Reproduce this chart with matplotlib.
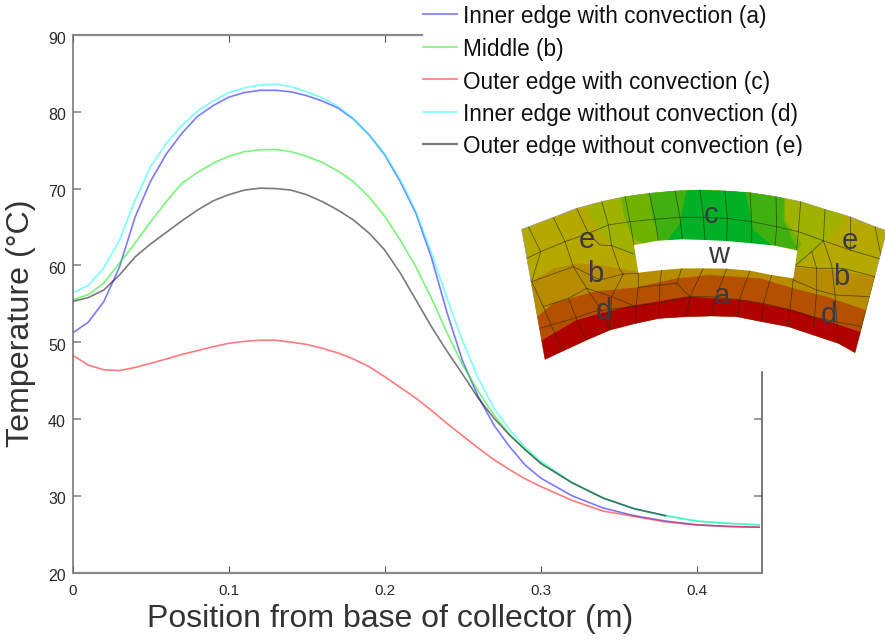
import numpy as np
import matplotlib
matplotlib.use("Agg")
import matplotlib.pyplot as plt
from matplotlib.patches import Polygon
from matplotlib.transforms import ScaledTranslation

plt.rcParams['font.family'] = ['Liberation Sans', 'DejaVu Sans']

position = [0.00, 0.01, 0.02, 0.03, 0.04, 0.05, 0.06, 0.07, 0.08, 0.09, 0.10, 0.11, 0.12,
            0.13, 0.14, 0.15, 0.16, 0.17, 0.18, 0.19, 0.20, 0.21, 0.22, 0.23, 0.24, 0.25,
            0.26, 0.27, 0.28, 0.29, 0.30, 0.32, 0.34, 0.36, 0.38, 0.40, 0.42, 0.44]
inner_conv = [51.2, 52.6, 55.3, 59.8, 66.3, 71.0, 74.5, 77.2, 79.4, 80.8, 81.9, 82.5, 82.8,
              82.8, 82.6, 82.1, 81.4, 80.5, 79.05, 77.0, 74.4, 70.9, 66.8, 61.0, 53.8, 47.5,
              42.9, 39.2, 36.4, 34.0, 32.3, 30.0, 28.4, 27.4, 26.7, 26.2, 26.0, 25.9]
middle = [55.5, 56.2, 57.7, 60.3, 62.9, 65.7, 68.3, 70.7, 72.1, 73.3, 74.2, 74.8, 75.05,
          75.1, 74.8, 74.2, 73.4, 72.3, 70.9, 68.9, 66.4, 63.3, 59.8, 55.7, 51.2, 47.0,
          43.6, 40.5, 38.0, 36.0, 34.3, 31.7, 29.7, 28.3, 27.4, 26.7, 26.4, 26.2]
outer_conv = [48.3, 47.0, 46.4, 46.3, 46.7, 47.25, 47.8, 48.4, 48.9, 49.4, 49.85, 50.1, 50.25,
              50.25, 50.0, 49.7, 49.2, 48.6, 47.8, 46.8, 45.5, 44.1, 42.7, 41.1, 39.4, 37.8,
              36.2, 34.7, 33.4, 32.2, 31.2, 29.4, 28.0, 27.3, 26.6, 26.2, 26.0, 25.9]
inner_noconv = [56.4, 57.4, 59.7, 63.3, 68.5, 72.9, 75.9, 78.2, 80.1, 81.4, 82.5, 83.1, 83.5,
                83.6, 83.3, 82.6, 81.8, 80.7, 79.1, 77.0, 74.5, 71.1, 67.0, 61.6, 55.7, 50.1,
                45.3, 41.4, 38.6, 36.3, 34.5, 31.7, 29.7, 28.3, 27.4, 26.7, 26.4, 26.2]
outer_noconv = [55.3, 55.8, 56.8, 58.75, 61.1, 62.8, 64.3, 65.8, 67.2, 68.4, 69.2, 69.8, 70.05,
                70.0, 69.8, 69.2, 68.3, 67.2, 65.9, 64.2, 62.0, 59.0, 55.5, 52.0, 48.8, 45.8,
                42.7, 40.1, 37.9, 36.0, 34.2, 31.7, 29.7, 28.3, 27.4, np.nan, np.nan, np.nan]
series_labels = ['Inner edge with convection (a)', 'Middle (b)', 'Outer edge with convection (c)',
                 'Inner edge without convection (d)', 'Outer edge without convection (e)']
series_colors = ['#2222ff', '#22ee22', '#ff2222', '#22ffff', '#222222']
x_ticks = [0, 0.1, 0.2, 0.3, 0.4]
x_tick_labels = ['0', '0.1', '0.2', '0.3', '0.4']
y_ticks = [20, 30, 40, 50, 60, 70, 80, 90]

W, H = 885, 642
fig = plt.figure(figsize=(W / 100, H / 100), dpi=100, facecolor='white')
L, R, T, B = 72.7, 761.7, 35.0, 572.5
ax = fig.add_axes([L / W, 1 - B / H, (R - L) / W, (B - T) / H])

for vals, col in zip([inner_conv, middle, outer_conv, inner_noconv, outer_noconv], series_colors):
    ax.plot(position, vals, color=col, lw=1.2, alpha=0.6, solid_joinstyle='round')

ax.set_xlim(0, (R - L) / 1560)
ax.set_ylim(20, 90)
ax.set_xticks(x_ticks)
ax.set_xticklabels(x_tick_labels)
ax.set_yticks(y_ticks)
ax.tick_params(axis='both', direction='in', labelcolor='#2a2a2a', top=True, right=True)
ax.tick_params(axis='x', pad=8, length=5, color='#555555', width=0.8, labelsize=11)
ax.tick_params(axis='y', pad=5, length=5.5, color='#888888', width=1.2, labelsize=11.5)
for name, col, lw in [('left', '#6e6e6e', 1.1), ('right', '#555555', 1.1),
                      ('top', '#888888', 1.6), ('bottom', '#888888', 1.6)]:
    ax.spines[name].set_color(col)
    ax.spines[name].set_linewidth(lw)
top_end = (421.7 - L) / 1560
right_start = 90 - (372 - T) / 7.68
ax.spines['top'].set_bounds(0, top_end)
ax.spines['right'].set_bounds(20, right_start)
for t, v in zip(ax.xaxis.get_major_ticks(), x_ticks):
    t.tick2line.set_visible(v < top_end)
for t, v in zip(ax.yaxis.get_major_ticks(), y_ticks):
    t.tick2line.set_visible(v < right_start)
shift = ScaledTranslation(0, -2.5 / 100, fig.dpi_scale_trans)
for lab in ax.get_yticklabels():
    lab.set_transform(lab.get_transform() + shift)

# Overlay in image pixel coordinates for the labels, the legend and the cross-section diagram
ov = fig.add_axes([0, 0, 1, 1], facecolor='none')
ov.set_xlim(0, W)
ov.set_ylim(H, 0)
ov.axis('off')

ax.set_xlabel('Position from base of collector (m)', fontsize=23, color='#333333', va='center')
ax.set_ylabel('Temperature (°C)', fontsize=23.2, color='#333333', va='center')
ax.xaxis.set_label_coords(390, 619, transform=ov.transData)
ax.yaxis.set_label_coords(21, 323, transform=ov.transData)

leg_y = [14, 46.5, 79, 111.5, 143.5]
for y, lab, col in zip(leg_y, series_labels, series_colors):
    lw = 1.6 if col == '#222222' else 1.2
    ov.plot([422, 458], [y, y], color=col, lw=lw, alpha=0.6, solid_capstyle='butt')
    ov.text(463, y + 3, lab, fontsize=16.3, color='#111111', va='center', ha='left')
ov.add_patch(plt.Rectangle((420, 155.5), 420, 12, fc='white', ec='none', zorder=3))


def z(points):
    return [(510 + px / 3, 180 + py / 3) for px, py in points]


outer_arc = [(35, 148), (130, 112), (200, 85), (275, 65), (345, 50), (418, 40), (495, 33), (570, 30),
             (645, 33), (720, 38), (798, 50), (872, 65), (945, 88), (1020, 110), (1095, 140), (1130, 152)]
inner_arc = [(1035, 518), (985, 490), (910, 465), (835, 440), (755, 425), (680, 410), (605, 408),
             (530, 410), (448, 415), (378, 430), (300, 450), (230, 480), (105, 538)]
sector = Polygon(z(outer_arc + inner_arc), closed=True, fc='#b5a900', ec='#999999', lw=0.5, zorder=4)
ov.add_patch(sector)

bands = [
    ('#9fb200', [(225, 0), (240, 110), (290, 180), (375, 235), (860, 255), (910, 215), (1000, 130), (1000, 0)]),
    ('#6db300', [(325, 0), (340, 100), (365, 170), (410, 200), (860, 215), (875, 190), (825, 120), (825, 0)]),
    ('#3fb010', [(415, 0), (425, 100), (450, 190), (860, 205), (820, 120), (825, 0)]),
    ('#00b025', [(535, 0), (510, 130), (470, 185), (790, 200), (730, 150), (700, 0)]),
    ('#b88c00', [(50, 320), (80, 295), (130, 265), (200, 250), (270, 255), (330, 265), (385, 275),
                 (620, 262), (855, 262), (960, 270), (1130, 295), (1150, 600), (0, 600)]),
    ('#b45000', [(70, 420), (130, 370), (250, 335), (380, 322), (500, 295), (600, 285), (750, 295),
                 (850, 325), (950, 350), (1090, 398), (1150, 600), (0, 600)]),
    ('#b00000', [(80, 490), (200, 420), (350, 380), (530, 350), (700, 360), (850, 390), (1070, 462),
                 (1150, 600), (0, 600)]),
]
for col, pts in bands:
    p = Polygon(z(pts), closed=True, fc=col, ec='none', zorder=5)
    ov.add_patch(p)
    p.set_clip_path(sector)

mesh = [
    [(50, 235), (92, 215), (165, 185), (235, 160), (295, 135), (360, 125), (430, 118), (510, 112), (580, 112),
     (650, 115), (725, 125), (800, 140), (865, 155), (940, 182), (1020, 210), (1115, 238)],
    [(55, 140), (92, 215), (65, 305), (100, 380), (125, 440), (155, 505)],
    [(130, 112), (165, 185), (190, 260), (230, 325), (270, 385), (300, 450)],
    [(200, 85), (235, 160), (270, 195), (305, 197)],
    [(275, 65), (295, 135), (305, 197), (330, 270), (340, 282)],
    [(345, 50), (360, 125), (372, 195)],
    [(418, 40), (435, 118), (445, 182)],
    [(495, 33), (510, 112), (517, 178)],
    [(570, 30), (580, 112), (585, 180)],
    [(645, 33), (652, 115), (650, 183)],
    [(720, 38), (725, 125), (725, 190)],
    [(798, 50), (800, 140), (795, 197)],
    [(872, 65), (865, 155), (860, 210)],
    [(945, 88), (940, 182), (905, 215), (858, 255)],
    [(1020, 110), (1020, 210)],
    [(1095, 140), (1115, 238), (1095, 290), (1080, 350), (1055, 440), (1040, 510)],
    [(305, 197), (372, 222)],
    [(940, 182), (965, 255), (975, 345), (985, 490)],
    [(905, 215), (920, 265), (920, 330), (910, 465)],
    [(858, 258), (920, 265), (1000, 265), (1095, 290)],
    [(850, 300), (920, 330), (975, 345), (1080, 350)],
    [(90, 445), (175, 420), (250, 395), (378, 378), (448, 370), (540, 350), (600, 350), (680, 358),
     (760, 370), (840, 390), (905, 410), (975, 425), (1055, 440)],
    [(580, 265), (540, 350), (530, 410)],
    [(650, 266), (620, 345), (605, 408)],
    [(720, 272), (690, 355), (680, 410)],
    [(785, 285), (760, 370), (755, 425)],
    [(850, 295), (840, 390), (835, 440)],
    [(340, 282), (385, 280), (385, 320), (378, 380), (378, 430)],
    [(455, 270), (450, 310), (448, 370), (448, 415)],
    [(515, 265), (500, 310), (540, 350)],
    [(340, 282), (305, 350), (300, 450)],
    [(385, 322), (500, 310)],
    [(340, 282), (270, 300), (190, 260), (65, 305)],
    [(230, 325), (305, 350), (378, 380)],
    [(100, 380), (175, 355), (230, 325)],
    [(175, 355), (205, 430), (230, 480)],
]
for m in mesh:
    pts = np.array(z(m))
    ln, = ov.plot(pts[:, 0], pts[:, 1], color='#2a2a10', lw=0.6, alpha=0.65, zorder=6)
    ln.set_clip_path(sector)

window = [(372, 195), (445, 182), (517, 178), (585, 180), (650, 183), (725, 190), (795, 197), (862, 212),
          (850, 295), (785, 285), (720, 272), (650, 266), (580, 265), (515, 265), (455, 270), (385, 278)]
ov.add_patch(Polygon(z(window), closed=True, fc='white', ec='none', zorder=7))

part_labels = [('c', 603, 105), ('w', 625, 225), ('a', 635, 347), ('e', 232, 180), ('b', 255, 282),
               ('d', 282, 392), ('e', 1020, 182), ('b', 995, 292), ('d', 958, 405)]
for s, px, py in part_labels:
    (tx, ty), = z([(px, py)])
    ov.text(tx, ty, s, fontsize=21, color='#3a3a44', ha='center', va='center', zorder=8)

fig.savefig('out.png', dpi=100)
